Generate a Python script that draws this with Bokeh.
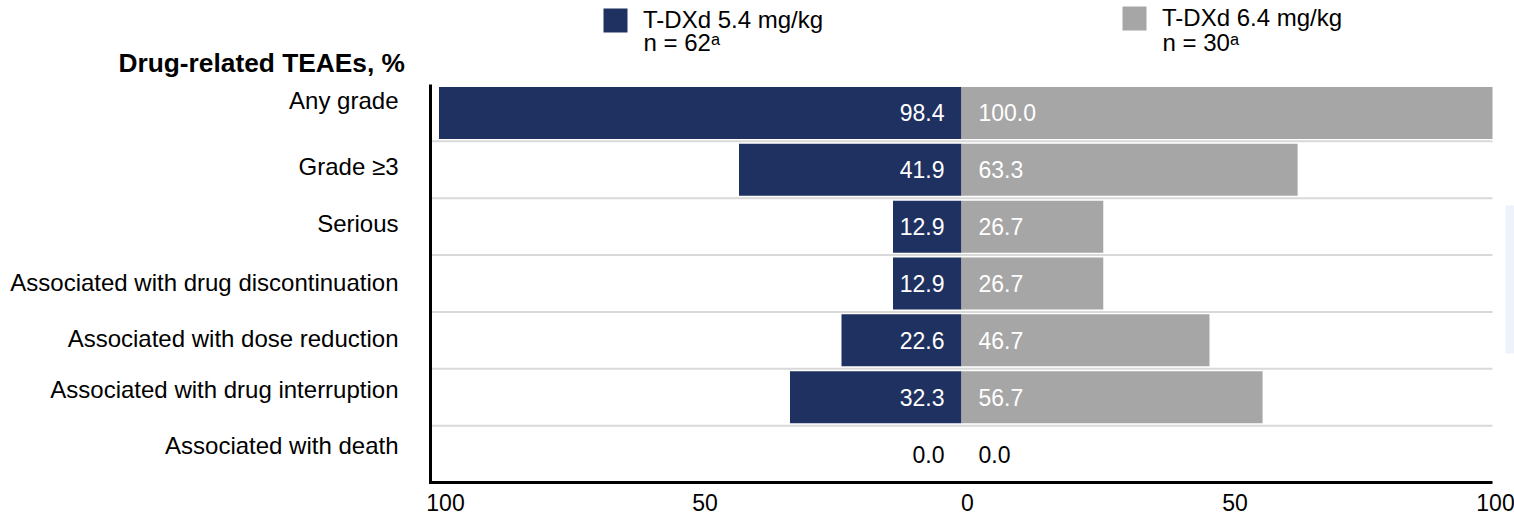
from bokeh.plotting import figure
from bokeh.models import (Range1d, Legend, LegendItem, Label, BoxAnnotation,
                          ColumnDataSource)
from bokeh.core.properties import value
from bokeh.embed import file_html
from bokeh.resources import INLINE

# ---- data -------------------------------------------------------------
categories = [
    "Any grade",
    "Grade ≥3",
    "Serious",
    "Associated with drug discontinuation",
    "Associated with dose reduction",
    "Associated with drug interruption",
    "Associated with death",
]
dose_54 = [98.4, 41.9, 12.9, 12.9, 22.6, 32.3, 0.0]   # T-DXd 5.4 mg/kg, %
dose_64 = [100.0, 63.3, 26.7, 26.7, 46.7, 56.7, 0.0]  # T-DXd 6.4 mg/kg, %
series_names = ["T-DXd 5.4 mg/kg", "T-DXd 6.4 mg/kg"]
series_n = ["n = 62ᵃ", "n = 30ᵃ"]
x_ticks = [-100, -50, 0, 50, 100]
x_tick_labels = ["100", "50", "0", "50", "100"]
chart_title = "Drug-related TEAEs, %"

# ---- style / layout ---------------------------------------------------
NAVY = "#1f3160"
GREY = "#a6a6a6"
GRID = "#d9d9d9"
FONT = "Liberation Sans"

W, H = 1514, 515
ZERO_PX = 961            # where 0 % sits, from the left edge
UNIT_PX = 5.31           # pixels per percentage point
TOP_PX, BOTTOM_PX = 84, 482
N = len(categories)
ROW_PX = (BOTTOM_PX - TOP_PX) / N

x_range = Range1d(-ZERO_PX / UNIT_PX, (W - ZERO_PX) / UNIT_PX)
y_range = Range1d(-0.5 + (H - TOP_PX) / ROW_PX, -0.5 - TOP_PX / ROW_PX)

# small hand nudges (pixels) for the category and tick labels
cat_label_nudge = [-12, -3, -3, -1.5, -1.5, -8, -9]
tick_label_nudge = [15, 9, 6, 8, 3]

rows = list(range(N))
src = ColumnDataSource(dict(
    row=rows,
    neg54=[-v for v in dose_54],
    v64=dose_64,
    lbl54=[f"{v:.1f}" for v in dose_54],
    lbl64=[f"{v:.1f}" for v in dose_64],
    col54=["white" if v > 0 else "black" for v in dose_54],
    col64=["white" if v > 0 else "black" for v in dose_64],
))

p = figure(width=W, height=H, x_range=x_range, y_range=y_range,
           x_axis_location=None, y_axis_location=None, title=None,
           output_backend="svg", toolbar_location=None, min_border=0)
p.outline_line_color = None
p.background_fill_color = "white"
p.border_fill_color = "white"
p.grid.visible = False

lo, hi = x_ticks[0], x_ticks[-1]
first, last = -0.5, N - 0.5

# light separators between the rows
sep = [r + 0.5 for r in rows[:-1]]
p.segment(x0=lo, x1=hi, y0=sep, y1=sep, line_color=GRID, line_width=2)

# bars
r54 = p.hbar(y="row", left="neg54", right=0, height=0.915, source=src,
             fill_color=NAVY, line_color=None)
r64 = p.hbar(y="row", left=0, right="v64", height=0.915, source=src,
             fill_color=GREY, line_color=None)

# value labels
p.text(x=0, y="row", text="lbl54", source=src, x_offset=-17,
       text_align="right", text_baseline="middle", text_color="col54",
       text_font=value(FONT), text_font_size="23px")
p.text(x=0, y="row", text="lbl64", source=src, x_offset=17,
       text_align="left", text_baseline="middle", text_color="col64",
       text_font=value(FONT), text_font_size="23px")

# axis lines (left and bottom)
p.line(x=[lo, lo, hi], y=[first, last, last], line_color="black",
       line_width=3, line_join="miter")

# category labels
p.text(x=lo, y=[r + n / ROW_PX for r, n in zip(rows, cat_label_nudge)],
       text=categories, x_offset=-32, text_align="right",
       text_baseline="middle", text_color="black",
       text_font=value(FONT), text_font_size="24px")

# tick labels along the bottom
p.text(x=[t + n / UNIT_PX for t, n in zip(x_ticks, tick_label_nudge)],
       y=last, text=x_tick_labels, y_offset=20, text_align="center",
       text_baseline="middle", text_color="black",
       text_font=value(FONT), text_font_size="23px")

# legends (swatch + series name), sample size underneath
for rend, name, lx, ly in ((r54, series_names[0], 600, 480),
                           (r64, series_names[1], 1119, 482)):
    leg = Legend(items=[LegendItem(label=name, renderers=[rend])],
                 location=(lx, ly), orientation="horizontal",
                 glyph_width=30, glyph_height=30, label_standoff=13,
                 label_height=24, padding=0, margin=0, spacing=0,
                 border_line_color=None, background_fill_alpha=0,
                 label_text_font=FONT, label_text_font_size="24px",
                 label_text_color="black")
    p.add_layout(leg, "center")

for txt, lx, cy in ((series_n[0], 643, 41.5), (series_n[1], 1162, 42.0)):
    p.add_layout(Label(x=lx, y=H - cy, x_units="screen", y_units="screen",
                       text=txt, text_baseline="middle", text_align="left",
                       text_font=FONT, text_font_size="24px",
                       text_color="black"))

# heading above the category labels
p.add_layout(Label(x=118, y=H - 62, x_units="screen", y_units="screen",
                   text=chart_title, text_baseline="middle", text_align="left",
                   text_font=FONT, text_font_size="26.3px",
                   text_font_style="bold", text_color="black"))

# faint panel at the right edge
p.add_layout(BoxAnnotation(left=1505, right=W, bottom=H - 353, top=H - 205,
                           left_units="screen", right_units="screen",
                           top_units="screen", bottom_units="screen",
                           fill_color="#eef2fa", fill_alpha=1,
                           line_color=None))

open("out.html", "w").write(file_html(p, INLINE))
